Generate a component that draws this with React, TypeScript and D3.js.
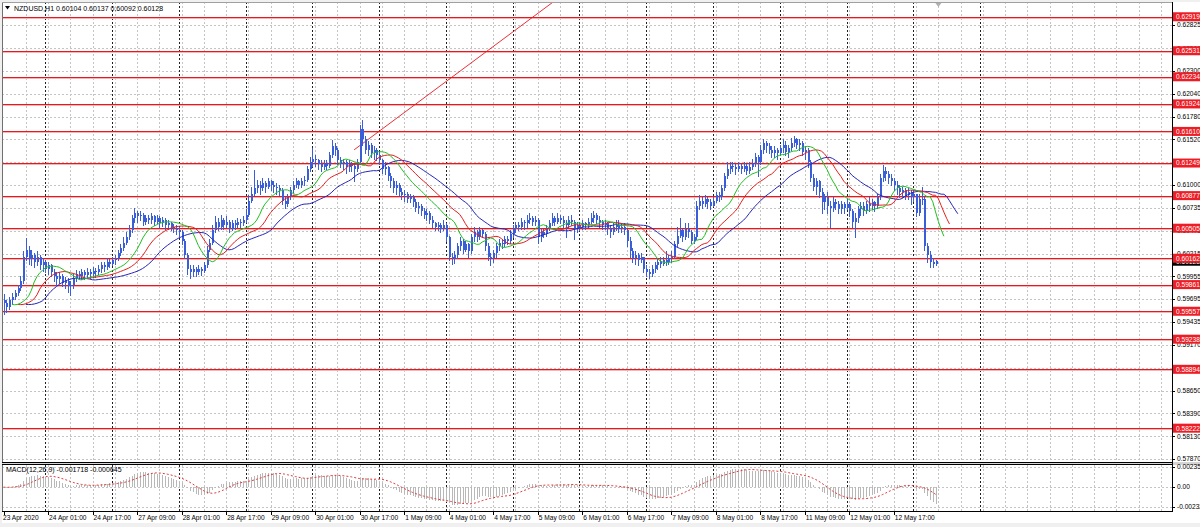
import React from 'react';
import * as d3 from 'd3';

const W = 1200;
const H = 527;

// Hourly NZDUSD bars (prices in pips, i.e. price * 10000), 23 Apr 2020 09:00 .. 13 May 2020 08:00
const firstOpen = 5968;
const closePips = [
  5965,5960,5968,5972,5976,5982,5990,6018,6026,6015,
  6020,6012,6018,6008,6012,6004,6008,6000,5996,5992,
  5996,5988,5990,5984,5986,5994,5998,5996,6000,5997,
  6001,5998,6002,6000,6004,6008,6006,6012,6010,6014,
  6016,6022,6028,6034,6040,6048,6062,6068,6064,6066,
  6058,6062,6060,6064,6058,6062,6056,6060,6054,6056,
  6052,6050,6048,6046,6036,6020,6004,6000,6004,6000,
  6004,6002,6008,6026,6034,6048,6058,6052,6060,6054,
  6058,6050,6056,6054,6058,6056,6060,6066,6082,6090,
  6096,6100,6096,6102,6098,6104,6100,6098,6096,6094,
  6082,6078,6086,6094,6100,6104,6100,6104,6106,6118,
  6126,6130,6128,6124,6120,6124,6122,6134,6144,6140,
  6128,6124,6126,6120,6124,6122,6118,6126,6164,6152,
  6140,6146,6136,6140,6134,6128,6118,6120,6110,6104,
  6096,6100,6092,6088,6090,6084,6086,6080,6074,6076,
  6070,6066,6068,6060,6056,6052,6054,6050,6054,6040,
  6018,6016,6020,6030,6036,6026,6032,6024,6040,6046,
  6040,6048,6044,6030,6018,6016,6022,6030,6034,6032,
  6038,6036,6044,6050,6054,6052,6058,6056,6060,6062,
  6058,6060,6040,6046,6044,6050,6056,6062,6058,6062,
  6060,6056,6054,6060,6058,6050,6054,6052,6056,6054,
  6058,6062,6066,6060,6058,6054,6056,6050,6046,6052,
  6054,6050,6052,6048,6036,6024,6016,6020,6014,6018,
  6004,6000,5998,6004,6008,6012,6010,6014,6012,6016,
  6018,6032,6042,6048,6040,6050,6046,6036,6040,6076,
  6082,6078,6084,6080,6076,6082,6088,6086,6096,6110,
  6118,6122,6120,6118,6122,6118,6122,6116,6120,6124,
  6132,6126,6140,6148,6144,6140,6136,6140,6136,6142,
  6146,6138,6142,6148,6152,6146,6148,6138,6140,6126,
  6108,6098,6104,6092,6080,6086,6076,6074,6080,6078,
  6072,6078,6074,6078,6070,6058,6062,6072,6076,6070,
  6078,6076,6080,6076,6086,6108,6116,6112,6108,6104,
  6100,6096,6092,6094,6088,6092,6086,6090,6068,6084,
  6084,6030,6020,6012,6010,6013,
];
const highPips = [
  5975,5968,5972,5976,5980,5986,5996,6024,6039,6030,
  6026,6022,6024,6020,6016,6014,6012,6010,6004,6000,
  6000,5998,5995,5994,5990,5998,6003,6002,6004,6003,
  6005,6004,6006,6005,6008,6012,6012,6016,6015,6018,
  6020,6026,6032,6040,6046,6054,6066,6074,6070,6070,
  6068,6066,6066,6068,6066,6066,6064,6063,6062,6060,
  6058,6055,6054,6052,6048,6038,6022,6008,6008,6006,
  6008,6006,6012,6030,6038,6054,6064,6062,6066,6062,
  6064,6060,6060,6060,6062,6061,6064,6072,6088,6098,
  6117,6106,6104,6108,6104,6108,6106,6104,6102,6100,
  6096,6086,6090,6098,6104,6108,6106,6108,6110,6122,
  6132,6142,6134,6130,6128,6128,6128,6138,6151,6148,
  6142,6132,6130,6128,6128,6126,6124,6130,6168,6174,
  6156,6150,6148,6144,6142,6138,6130,6126,6122,6114,
  6108,6104,6102,6096,6094,6092,6090,6088,6084,6080,
  6078,6074,6072,6070,6064,6058,6058,6056,6060,6056,
  6042,6022,6024,6034,6040,6038,6036,6034,6044,6052,
  6048,6052,6050,6046,6034,6022,6026,6034,6038,6038,
  6042,6042,6048,6054,6058,6058,6062,6060,6066,6068,
  6064,6064,6062,6050,6050,6054,6060,6068,6064,6068,
  6066,6064,6060,6064,6066,6060,6058,6058,6060,6058,
  6062,6068,6070,6068,6064,6060,6060,6058,6054,6056,
  6060,6060,6056,6056,6050,6040,6028,6024,6022,6022,
  6018,6008,6004,6008,6012,6016,6018,6018,6024,6020,
  6024,6036,6052,6062,6050,6056,6056,6048,6044,6082,
  6088,6086,6088,6086,6084,6086,6092,6092,6100,6114,
  6126,6126,6126,6124,6126,6124,6126,6124,6126,6130,
  6136,6134,6146,6152,6150,6148,6144,6144,6142,6146,
  6152,6150,6146,6154,6156,6154,6152,6150,6144,6142,
  6128,6112,6108,6106,6096,6090,6092,6082,6086,6084,
  6082,6082,6080,6084,6080,6072,6068,6076,6080,6080,
  6082,6086,6084,6082,6090,6112,6123,6120,6116,6112,
  6108,6104,6100,6098,6096,6096,6094,6094,6090,6090,
  6098,6086,6034,6024,6016,6014,
];
const lowPips = [
  5952,5955,5958,5964,5970,5974,5980,5988,6014,6010,
  6008,6006,6009,6004,6002,6000,5998,5996,5990,5986,
  5988,5984,5982,5978,5974,5982,5990,5992,5993,5992,
  5994,5994,5996,5995,5998,6000,6002,6004,6006,6008,
  6010,6014,6020,6026,6032,6038,6046,6058,6058,6060,
  6054,6055,6056,6057,6054,6056,6052,6053,6050,6050,
  6048,6046,6044,6042,6032,6016,5998,5994,5996,5996,
  5998,5997,6000,6006,6024,6032,6046,6048,6050,6050,
  6052,6046,6048,6050,6052,6052,6054,6058,6064,6080,
  6088,6092,6090,6094,6092,6096,6094,6092,6090,6088,
  6078,6074,6076,6084,6092,6098,6096,6098,6100,6104,
  6116,6122,6122,6118,6116,6118,6118,6120,6132,6134,
  6124,6120,6118,6114,6116,6116,6104,6116,6124,6146,
  6136,6134,6132,6130,6128,6124,6114,6112,6106,6098,
  6092,6090,6088,6084,6082,6080,6080,6076,6070,6068,
  6066,6062,6060,6056,6052,6048,6048,6046,6048,6036,
  6014,6010,6011,6016,6026,6022,6024,6018,6022,6036,
  6036,6038,6040,6026,6014,6008,6012,6018,6026,6028,
  6030,6032,6034,6040,6046,6048,6050,6050,6052,6056,
  6054,6054,6034,6036,6040,6042,6048,6054,6054,6056,
  6056,6052,6040,6052,6054,6038,6046,6048,6050,6050,
  6052,6056,6058,6056,6052,6050,6050,6044,6040,6044,
  6048,6046,6046,6044,6030,6018,6012,6010,6008,6012,
  6000,5996,5994,5996,6000,6004,6006,6008,6008,6010,
  6012,6016,6030,6040,6036,6038,6040,6034,6034,6038,
  6072,6074,6076,6074,6072,6076,6080,6082,6084,6094,
  6108,6114,6116,6112,6116,6114,6116,6112,6114,6118,
  6122,6110,6124,6136,6138,6136,6132,6132,6130,6134,
  6138,6134,6132,6140,6144,6142,6140,6134,6130,6120,
  6104,6094,6090,6086,6068,6072,6068,6052,6070,6072,
  6068,6068,6068,6072,6064,6052,6040,6058,6066,6066,
  6068,6070,6072,6070,6074,6084,6104,6106,6102,6100,
  6094,6090,6086,6086,6084,6084,6078,6082,6064,6066,
  6078,6026,6012,6006,6006,6009,
];

// Horizontal support/resistance levels
const levelPrices = [0.62919, 0.62531, 0.62234, 0.61924, 0.61610, 0.61249, 0.60877, 0.60505, 0.60162, 0.59861, 0.59557, 0.59238, 0.58894, 0.58222];
const levelLabels = ['0.62919', '0.62531', '0.62234', '0.61924', '0.61610', '0.61249', '0.60877', '0.60505', '0.60162', '0.59861', '0.59557', '0.59238', '0.58894', '0.58222'];

// Price axis ticks
const priceTicks = [0.62825, 0.62560, 0.62300, 0.62040, 0.61780, 0.61520, 0.61260, 0.61000, 0.60735, 0.60475, 0.60215, 0.59955, 0.59695, 0.59435, 0.59170, 0.58910, 0.58650, 0.58390, 0.58130, 0.57870];
const priceTickLabels = ['0.62825', '0.62560', '0.62300', '0.62040', '0.61780', '0.61520', '0.61260', '0.61000', '0.60735', '0.60475', '0.60215', '0.59955', '0.59695', '0.59435', '0.59170', '0.58910', '0.58650', '0.58390', '0.58130', '0.57870'];

// Time axis
const timeLabelBars = [0, 16, 32, 48, 64, 80, 96, 112, 128, 144, 160, 176, 192, 208, 224, 240, 256, 272, 288, 304, 320];
const timeLabelTexts = ['23 Apr 2020', '24 Apr 01:00', '24 Apr 17:00', '27 Apr 09:00', '28 Apr 01:00', '28 Apr 17:00', '29 Apr 09:00', '30 Apr 01:00', '30 Apr 17:00', '1 May 09:00', '4 May 01:00', '4 May 17:00', '5 May 09:00', '6 May 01:00', '6 May 17:00', '7 May 09:00', '8 May 01:00', '8 May 17:00', '11 May 09:00', '12 May 01:00', '12 May 17:00'];
const daySeparatorBars = [15, 39, 63, 87, 111, 135, 159, 183, 207, 231, 255, 279, 303, 327, 351];

// Trend line anchors (bar index, price)
const trendBars = [126, 190];
const trendPrices = [0.6140, 0.6291];

// MACD panel scale labels
const macdTicks = [0.002355, 0, -0.00232];
const macdTickLabels = ['0.002355', '0.00', '-0.00232'];

const headerText = 'NZDUSD,H1  0.60104 0.60137 0.60092 0.60128';
const macdText = 'MACD(12,26,9) -0.001718 -0.000645';
const lastPrice = 0.60128;

const FONT = '"Liberation Sans", Arial, sans-serif';
const CANDLE = '#3a5ed8';
const LEVEL = '#e6191f';

function smma(src: number[], n: number): number[] {
  const out: number[] = [];
  let v = src[0];
  for (let i = 0; i < src.length; i++) {
    v = i === 0 ? src[0] : (v * (n - 1) + src[i]) / n;
    out.push(v);
  }
  return out;
}
function ema(src: number[], n: number): number[] {
  const k = 2 / (n + 1);
  const out: number[] = [];
  let v = src[0];
  for (let i = 0; i < src.length; i++) {
    v = i === 0 ? src[0] : src[i] * k + v * (1 - k);
    out.push(v);
  }
  return out;
}
function sma(src: number[], n: number): number[] {
  return src.map((_, i) => {
    const s = Math.max(0, i - n + 1);
    return d3.mean(src.slice(s, i + 1)) as number;
  });
}

export default function App() {
  const close = closePips.map((v) => v / 10000);
  const open = close.map((_, i) => (i === 0 ? firstOpen : closePips[i - 1]) / 10000);
  const high = highPips.map((v, i) => Math.max(v / 10000, open[i], close[i]));
  const low = lowPips.map((v, i) => Math.min(v / 10000, open[i], close[i]));
  const n = close.length;

  const left = 2, right = 1172, top = 2, mainBottom = 462, macdTop = 465, macdBottom = 511;

  const x = d3.scaleLinear().domain([0, 100]).range([3.6, 3.6 + 100 * 2.782]);
  const y = d3.scaleLinear().domain([0.5787, 0.62825]).range([459, 25]);
  const yM = d3.scaleLinear().domain([-0.00232, 0.002355]).range([507, 467]);

  const median = high.map((h, i) => (h + low[i]) / 2);
  const jaw = smma(median, 13);
  const teeth = smma(median, 8);
  const lips = smma(median, 5);

  const lineFor = (vals: number[], shift: number) =>
    d3.line<number>().x((_, i) => x(i + shift)).y((v) => y(v))(vals) || '';

  const e12 = ema(close, 12);
  const e26 = ema(close, 26);
  const macd = e12.map((v, i) => v - e26[i]);
  const signal = sma(macd, 9);
  const signalPath = d3.line<number>().x((_, i) => x(i)).y((v) => yM(v))(signal) || '';

  const maxBar = Math.floor(x.invert(right));
  const gridBars = d3.range(8, maxBar + 1, 8);

  const tx0 = x(trendBars[0]), ty0 = y(trendPrices[0]);
  const tx1 = x(trendBars[1]), ty1 = y(trendPrices[1]);
  const slope = (ty1 - ty0) / (tx1 - tx0);
  const txEnd = tx0 + (top - ty0) / slope;

  const py = (p: number) => Math.round(y(p)) + 0.5;
  const bx = (b: number) => Math.round(x(b)) + 0.5;

  return (
    <div style={{ position: 'absolute', left: 0, top: 0, width: W, height: H }}>
      <svg width={W} height={H} style={{ display: 'block', fontFamily: FONT }}>
        <defs>
          <clipPath id="mainClip">
            <rect x={left} y={top} width={right - left} height={mainBottom - top} />
          </clipPath>
          <clipPath id="macdClip">
            <rect x={left} y={macdTop} width={right - left} height={macdBottom - macdTop} />
          </clipPath>
        </defs>
        <rect x={0} y={0} width={W} height={H} fill="#f0f0f0" />
        <rect x={left} y={top} width={W - left} height={macdBottom + 12 - top} fill="#ffffff" />

        <g clipPath="url(#mainClip)">
          {priceTicks.map((p, i) => (
            <line key={'hg' + i} x1={left} x2={right} y1={py(p)} y2={py(p)}
              stroke="#c4c4c4" strokeDasharray="2,2" shapeRendering="crispEdges" />
          ))}
          {gridBars.map((b) => (
            <line key={'vg' + b} x1={bx(b)} x2={bx(b)} y1={top} y2={mainBottom}
              stroke="#c4c4c4" strokeDasharray="2,2" shapeRendering="crispEdges" />
          ))}
          {daySeparatorBars.map((b) => (
            <line key={'ds' + b} x1={bx(b)} x2={bx(b)} y1={top} y2={mainBottom}
              stroke="#202020" strokeDasharray="2,2" shapeRendering="crispEdges" />
          ))}
          {levelPrices.map((p, i) => (
            <g key={'lv' + i}>
              <line x1={left} x2={right} y1={py(p) + 1} y2={py(p) + 1}
                stroke="#f6b4b4" strokeWidth={1} shapeRendering="crispEdges" />
              <line x1={left} x2={right} y1={py(p)} y2={py(p)}
                stroke={LEVEL} strokeWidth={1} shapeRendering="crispEdges" />
            </g>
          ))}
          <line x1={tx0} y1={ty0} x2={txEnd} y2={top} stroke={LEVEL} strokeWidth={0.9} />

          {close.map((c, i) => {
            const cx = Math.round(x(i));
            const yo = y(open[i]), yc = y(c);
            const bt = Math.round(Math.min(yo, yc)), bb = Math.round(Math.max(yo, yc));
            return (
              <g key={'c' + i} shapeRendering="crispEdges">
                <line x1={cx + 0.5} x2={cx + 0.5} y1={Math.round(y(high[i]))} y2={Math.round(y(low[i])) + 1} stroke={CANDLE} strokeWidth={1} />
                <rect x={cx} y={bt} width={2} height={Math.max(1, bb - bt)} fill={CANDLE} />
              </g>
            );
          })}

          <path d={lineFor(jaw, 8)} fill="none" stroke="#2626b8" strokeWidth={1} />
          <path d={lineFor(teeth, 5)} fill="none" stroke="#e41e1e" strokeWidth={1} />
          <path d={lineFor(lips, 3)} fill="none" stroke="#20c020" strokeWidth={1} />
        </g>

        <path d="M5,6 L10,6 L7.5,9.5 Z" fill="#000" />
        <text x={14} y={10.5} fontSize={7} fill="#000">{headerText}</text>
        <path d={`M${x(n) - 3},3 L${x(n) + 3},3 L${x(n)},7 Z`} fill="#b0b0b0" />

        <g clipPath="url(#macdClip)">
          {macdTicks.map((v, i) => (
            <line key={'mg' + i} x1={left} x2={right} y1={Math.round(yM(v)) + 0.5} y2={Math.round(yM(v)) + 0.5}
              stroke="#c4c4c4" strokeDasharray="2,2" shapeRendering="crispEdges" />
          ))}
          {gridBars.map((b) => (
            <line key={'mvg' + b} x1={bx(b)} x2={bx(b)} y1={macdTop} y2={macdBottom}
              stroke="#c4c4c4" strokeDasharray="2,2" shapeRendering="crispEdges" />
          ))}
          {daySeparatorBars.map((b) => (
            <line key={'mds' + b} x1={bx(b)} x2={bx(b)} y1={macdTop} y2={macdBottom}
              stroke="#202020" strokeDasharray="2,2" shapeRendering="crispEdges" />
          ))}
          {macd.map((v, i) => (
            <line key={'mh' + i} x1={bx(i)} x2={bx(i)} y1={yM(0)} y2={yM(v)}
              stroke="#b8b8b8" strokeWidth={1} shapeRendering="crispEdges" />
          ))}
          <path d={signalPath} fill="none" stroke="#e03a3a" strokeWidth={1} strokeDasharray="2,2" />
        </g>
        <text x={6} y={472} fontSize={7} fill="#000">{macdText}</text>

        <g shapeRendering="crispEdges">
          <line x1={left + 0.5} x2={left + 0.5} y1={top} y2={macdBottom} stroke="#707070" />
          <line x1={left} x2={right} y1={top + 0.5} y2={top + 0.5} stroke="#a0a0a0" />
          <rect x={left} y={mainBottom} width={W - left} height={macdTop - mainBottom} fill="#d4d4d4" />
          <line x1={left} x2={right + 0.5} y1={mainBottom + 0.5} y2={mainBottom + 0.5} stroke="#000" />
          <line x1={left} x2={right + 0.5} y1={macdTop - 0.5} y2={macdTop - 0.5} stroke="#000" />
          <line x1={left} x2={right + 0.5} y1={macdBottom + 0.5} y2={macdBottom + 0.5} stroke="#000" />
          <line x1={right + 0.5} x2={right + 0.5} y1={top} y2={macdBottom + 1} stroke="#000" />
        </g>

        {priceTicks.map((p, i) => (
          <g key={'pt' + i}>
            <line x1={right} x2={right + 3} y1={py(p)} y2={py(p)} stroke="#000" shapeRendering="crispEdges" />
            <text x={1177} y={y(p) + 2.3} fontSize={6.6} fill="#000">{priceTickLabels[i]}</text>
          </g>
        ))}
        <rect x={right + 1} y={y(lastPrice) - 4.5} width={W - right} height={9} fill="#000" />
        <text x={1176} y={y(lastPrice) + 2.4} fontSize={6.6} fill="#fff">0.60128</text>
        {levelPrices.map((p, i) => (
          <g key={'ll' + i}>
            <rect x={right + 1} y={y(p) - 4.5} width={W - right} height={9} fill="#ee1c24" />
            <text x={1176} y={y(p) + 2.4} fontSize={6.6} fill="#fff">{levelLabels[i]}</text>
          </g>
        ))}

        {macdTicks.map((v, i) => (
          <g key={'ma' + i}>
            <line x1={right} x2={right + 3} y1={Math.round(yM(v)) + 0.5} y2={Math.round(yM(v)) + 0.5} stroke="#000" shapeRendering="crispEdges" />
            <text x={1177} y={yM(v) + 2.3} fontSize={6.6} fill="#000">{macdTickLabels[i]}</text>
          </g>
        ))}

        {timeLabelBars.map((b, i) => (
          <g key={'tl' + i}>
            <line x1={bx(b)} x2={bx(b)} y1={macdBottom} y2={macdBottom + 4} stroke="#000" shapeRendering="crispEdges" />
            <text x={i === 0 ? 3 : x(b) + 1} y={519.5} fontSize={6.6} fill="#000">{timeLabelTexts[i]}</text>
          </g>
        ))}
      </svg>
    </div>
  );
}
